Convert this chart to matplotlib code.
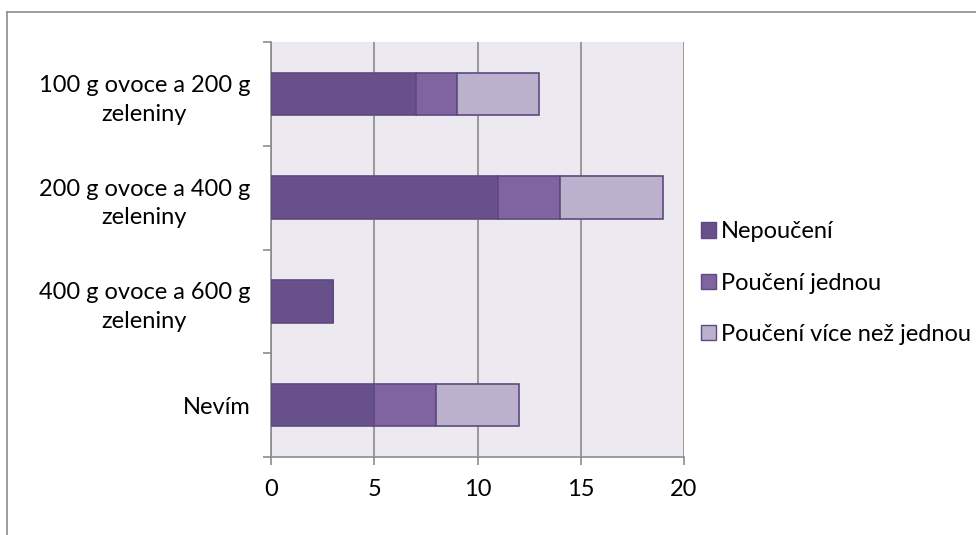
import matplotlib.pyplot as plt
from matplotlib.lines import Line2D
from matplotlib.patches import Patch

plt.rcParams['font.family'] = ['Lato', 'DejaVu Sans']

# categories from top to bottom
categories = ["100 g ovoce a 200 g\nzeleniny",
              "200 g ovoce a 400 g\nzeleniny",
              "400 g ovoce a 600 g\nzeleniny",
              "Nevím"]
nepouceni = [7, 11, 3, 5]
pouceni_jednou = [2, 3, 0, 3]
pouceni_vice = [4, 5, 0, 4]

series = ["Nepoučení", "Poučení jednou", "Poučení více než jednou"]
colors = ["#68518A", "#8064A2", "#BBB1CC"]
edge = "#5E4A80"

fig = plt.figure(figsize=(9.76, 5.35), dpi=100)
ax = fig.add_axes([271 / 976, 1 - 457 / 535, 413 / 976, 415 / 535])
ax.set_facecolor("#ECEAF0")

y = list(range(len(categories)))
left2 = [a + b for a, b in zip(nepouceni, pouceni_jednou)]
h = 0.41
ax.barh(y, nepouceni, height=h, color=colors[0], edgecolor=edge, linewidth=1.2, zorder=3)
ax.barh(y, pouceni_jednou, left=nepouceni, height=h, color=colors[1], edgecolor=edge, linewidth=1.2, zorder=3)
ax.barh(y, pouceni_vice, left=left2, height=h, color=colors[2], edgecolor=edge, linewidth=1.2, zorder=3)

ax.set_ylim(len(categories) - 0.5, -0.5)
ax.set_xlim(0, 20)
ax.set_xticks([0, 5, 10, 15, 20])
ax.xaxis.grid(True, color="#8C8C8C", linewidth=1.2, zorder=1)
ax.set_axisbelow(True)

ax.set_yticks(y)
ax.set_yticklabels(categories, fontsize=17, ha="right", multialignment="center",
                   linespacing=1.45)
ax.set_yticks([i - 0.5 for i in range(len(categories) + 1)], minor=True)
ax.tick_params(axis="y", which="major", length=0, pad=15)
ax.tick_params(axis="y", which="minor", length=6, width=1.2, color="#8C8C8C")
ax.tick_params(axis="x", length=6, width=1.2, color="#8C8C8C", labelsize=17, pad=10)

for s in ["top", "right"]:
    ax.spines[s].set_visible(False)
for s in ["left", "bottom"]:
    ax.spines[s].set_color("#8C8C8C")
    ax.spines[s].set_linewidth(1.2)

handles = [Patch(facecolor=c, edgecolor=edge) for c in colors]
fig.legend(handles, series, loc="upper left", bbox_to_anchor=(692 / 976, 1 - 212 / 535),
           frameon=False, fontsize=17, handlelength=0.62, handleheight=0.62,
           handletextpad=0.22, labelspacing=1.28, borderaxespad=0)

# outer chart border
fig.add_artist(Line2D([7 / 976, 1], [1 - 12 / 535, 1 - 12 / 535], color="#8C8C8C", linewidth=1.2))
fig.add_artist(Line2D([7 / 976, 7 / 976], [0, 1 - 12 / 535], color="#8C8C8C", linewidth=1.2))

fig.savefig("out.png", dpi=100)
